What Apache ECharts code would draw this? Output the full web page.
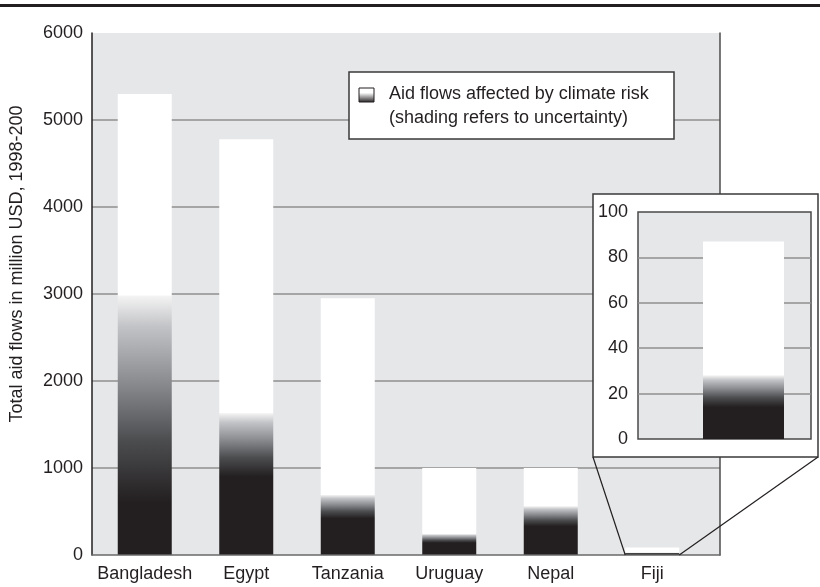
<!DOCTYPE html>
<html>
<head>
<meta charset="utf-8">
<script src="https://cdn.jsdelivr.net/npm/echarts@6/dist/echarts.min.js"></script>
<style>
html,body{margin:0;padding:0;background:#fff;}
#c{width:820px;height:587px;}
</style>
</head>
<body>
<div id="c"></div>
<script>
// ---- data ----
const categories = ['Bangladesh', 'Egypt', 'Tanzania', 'Uruguay', 'Nepal', 'Fiji'];
const totalAid = [5300, 4780, 2950, 1000, 1000, 87];          // total aid flows (million USD)
const affectedHigh = [2980, 1630, 690, 240, 560, 28];         // upper bound of climate-affected aid
const affectedLow = [600, 900, 420, 140, 330, 14];            // lower bound (fully dark)
const mainTicks = { min: 0, max: 6000, interval: 1000 };
const insetTicks = { min: 0, max: 100, interval: 20 };
const insetCategory = ['Fiji'];
const insetIndex = 5;
const yAxisName = 'Total aid flows in million USD, 1998-200';
const legendLines = ['Aid flows affected by climate risk', '(shading refers to uncertainty)'];

// ---- styling ----
const FONT = '"Liberation Sans", Arial, sans-serif';
const TXT = '#231f20';
const DARK = '#231f20';
const BG = '#e6e7e8';
const SPLIT = '#8f8f8f';
const bandStops = [
  [0, '#f4f4f4'], [0.15, '#c2c3c6'], [0.42, '#8a8b8f'], [0.7, '#4c4d4f'], [1, DARK]
];
function affectedGradient(high, low) {
  const f = (high - low) / high; // fraction of the bar (from top) that is the uncertainty band
  const stops = bandStops.map(([o, c]) => ({ offset: o * f, color: c }));
  stops.push({ offset: 1, color: DARK });
  return { type: 'linear', x: 0, y: 0, x2: 0, y2: 1, colorStops: stops };
}
const legendGrad = {
  type: 'linear', x: 0, y: 0, x2: 0, y2: 1,
  colorStops: [{ offset: 0, color: '#ffffff' }, { offset: 0.35, color: '#ffffff' }, { offset: 1, color: '#231f20' }]
};

const affectedData = affectedHigh.map((h, i) => ({ value: h, itemStyle: { color: affectedGradient(h, affectedLow[i]) } }));
const whitePart = totalAid.map((t, i) => t - affectedHigh[i]);

const chart = echarts.init(document.getElementById('c'), null, { renderer: 'canvas' });

const BAR_W = 54;
const plain = v => String(v);

const option = {
  animation: false,
  backgroundColor: '#ffffff',
  textStyle: { fontFamily: FONT },
  grid: [
    { left: 91, right: 100, top: 33, bottom: 32, show: true, backgroundColor: BG, borderWidth: 0, z: 0 },
    { left: 94, width: 609, top: 33, bottom: 32, z: 1 },
    { left: 638, right: 9, top: 212, bottom: 148, show: true, backgroundColor: BG, borderColor: '#4a4a4a', borderWidth: 1.5, z: 20 },
    { left: 703, width: 81, top: 212, bottom: 148, z: 21 }
  ],
  xAxis: [
    { gridIndex: 0, type: 'category', data: [''], axisLabel: { show: false }, axisTick: { show: false },
      axisLine: { show: true, lineStyle: { color: '#6a6a6a', width: 1.5 } }, splitLine: { show: false }, z: 5 },
    { gridIndex: 1, type: 'category', data: categories, axisLine: { show: false }, axisTick: { show: false },
      axisLabel: { color: TXT, fontSize: 18, fontFamily: FONT, margin: 10, interval: 0 }, z: 5 },
    { gridIndex: 2, type: 'category', data: [''], show: false, z: 22 },
    { gridIndex: 3, type: 'category', data: insetCategory, show: false, z: 22 }
  ],
  yAxis: [
    { gridIndex: 0, type: 'value', min: mainTicks.min, max: mainTicks.max, interval: mainTicks.interval,
      name: yAxisName, nameLocation: 'middle', nameRotate: 90, nameGap: 66,
      nameTextStyle: { color: TXT, fontSize: 18, fontFamily: FONT, padding: [0, 0, 0, 60] },
      axisLine: { show: true, lineStyle: { color: DARK, width: 1.5 } }, axisTick: { show: false },
      axisLabel: { color: TXT, fontSize: 18, fontFamily: FONT, margin: 9, formatter: plain },
      splitLine: { show: true, showMinLine: false, showMaxLine: false, lineStyle: { color: SPLIT, width: 1.5 } }, z: 0 },
    { gridIndex: 0, type: 'value', position: 'right', min: mainTicks.min, max: mainTicks.max, interval: mainTicks.interval,
      axisLine: { show: true, lineStyle: { color: '#4d4d4d', width: 1.5 } }, axisTick: { show: false },
      axisLabel: { show: false }, splitLine: { show: false }, z: 5 },
    { gridIndex: 1, type: 'value', min: mainTicks.min, max: mainTicks.max, interval: mainTicks.interval, show: false, splitLine: { show: false } },
    { gridIndex: 2, type: 'value', min: insetTicks.min, max: insetTicks.max, interval: insetTicks.interval,
      axisLine: { show: false }, axisTick: { show: false },
      axisLabel: { color: TXT, fontSize: 18, fontFamily: FONT, margin: 10, formatter: plain },
      splitLine: { show: true, showMinLine: false, showMaxLine: false, lineStyle: { color: SPLIT, width: 1.5 } }, z: 21 },
    { gridIndex: 3, type: 'value', min: insetTicks.min, max: insetTicks.max, interval: insetTicks.interval, show: false, splitLine: { show: false } }
  ],
  series: [
    { type: 'bar', name: 'affected', xAxisIndex: 1, yAxisIndex: 2, stack: 'm', barWidth: BAR_W, data: affectedData, z: 3 },
    { type: 'bar', name: 'rest', xAxisIndex: 1, yAxisIndex: 2, stack: 'm', barWidth: BAR_W, data: whitePart,
      itemStyle: { color: '#ffffff' }, z: 3 },
    { type: 'bar', xAxisIndex: 3, yAxisIndex: 4, stack: 'i', barWidth: '100%', data: [affectedData[insetIndex]], z: 25 },
    { type: 'bar', xAxisIndex: 3, yAxisIndex: 4, stack: 'i', barWidth: '100%', data: [whitePart[insetIndex]],
      itemStyle: { color: '#ffffff' }, z: 25 }
  ]
};
chart.setOption(option);

const fijiX = chart.convertToPixel({ xAxisIndex: 1 }, categories[insetIndex]);
const baseY = chart.convertToPixel({ yAxisIndex: 2 }, 0);
const box = { x: 593, y: 194, w: 225, h: 263 };

chart.setOption({
  graphic: [
    { type: 'rect', z: 30, shape: { x: 0, y: 4, width: 820, height: 3 }, style: { fill: '#231f20' } },
    { type: 'rect', z: 30, shape: { x: 349, y: 72, width: 325, height: 67 }, style: { fill: '#fff', stroke: '#3a3a3a', lineWidth: 1.5 } },
    { type: 'rect', z: 31, shape: { x: 359, y: 88, width: 15, height: 14 }, style: { fill: legendGrad, stroke: '#231f20', lineWidth: 1 } },
    { type: 'text', z: 31, x: 389, y: 82, style: { text: legendLines.join('\n'), font: '18px ' + FONT, fill: TXT, lineHeight: 24, textVerticalAlign: 'top' } },
    { type: 'rect', z: 15, shape: { x: box.x, y: box.y, width: box.w, height: box.h }, style: { fill: '#fff', stroke: '#3a3a3a', lineWidth: 1.5 } },
    { type: 'line', z: 15, shape: { x1: box.x, y1: box.y + box.h, x2: fijiX - BAR_W / 2, y2: baseY }, style: { stroke: '#231f20', lineWidth: 1.2 } },
    { type: 'line', z: 15, shape: { x1: box.x + box.w, y1: box.y + box.h, x2: fijiX + BAR_W / 2, y2: baseY }, style: { stroke: '#231f20', lineWidth: 1.2 } }
  ]
});
</script>
</body>
</html>
